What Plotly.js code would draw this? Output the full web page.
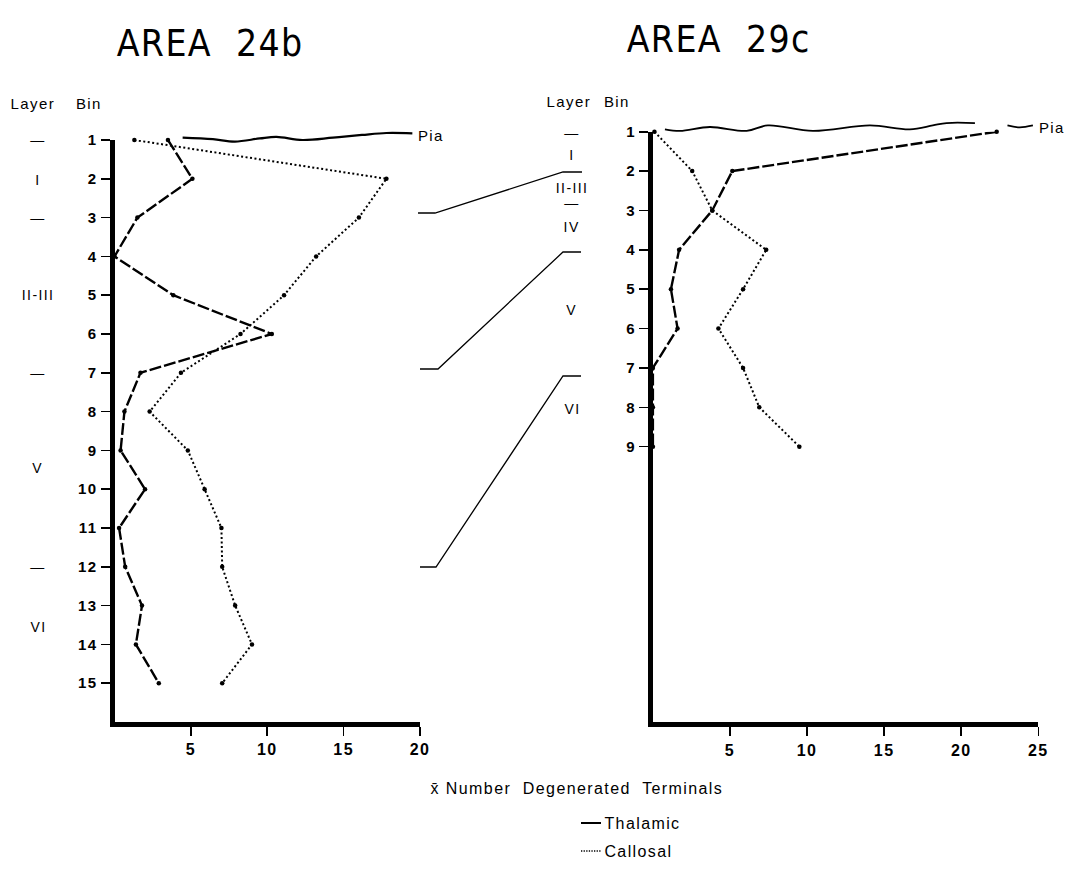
<!DOCTYPE html>
<html>
<head>
<meta charset="utf-8">
<script src="https://cdn.plot.ly/plotly-3.0.1.min.js"></script>
<style>
html,body{margin:0;padding:0;background:#fff;}
#chart{width:1068px;height:874px;}
#chart svg text{letter-spacing:1.4px;}
</style>
</head>
<body>
<div id="chart"></div>
<script>
// ---- Data ----
const binsLeft = [1,2,3,4,5,6,7,8,9,10,11,12,13,14,15];
const thalamic24b = [3.5,5.1,1.5,0,3.85,10.3,1.7,0.65,0.4,2.0,0.3,0.7,1.8,1.4,2.9];
const callosal24b = [1.3,17.8,16.0,13.2,11.1,8.25,4.35,2.3,4.8,5.9,7.0,7.05,7.9,9.0,7.05];

const binsRight = [1,2,3,4,5,6,7,8,9];
const thalamic29c = [22.3,5.15,3.85,1.7,1.17,1.6,0,0,0];
const callosal29c = [0.1,2.55,3.85,7.35,5.85,4.25,5.85,6.9,9.5];

const xTicksLeft = [5,10,15,20];
const xTicksRight = [5,10,15,20,25];

// Pia surface outline (wavy line)
const piaLeftX = [4.46,6.44,7.88,9.51,10.6,12.3,14.3,16.2,17.8,19.5];
const piaLeftY = [0.94,0.98,1.04,0.96,0.92,1.0,0.94,0.87,0.82,0.83];
const piaRightX = [0.78,1.76,3.70,6.08,7.46,10.38,14.08,16.67,18.16,19.05,20.89];
const piaRightY = [0.94,0.98,0.88,0.98,0.84,0.98,0.84,0.94,0.84,0.78,0.78];
const piaRight2X = [23.0,23.8,24.65];
const piaRight2Y = [0.84,0.89,0.84];

// Layer labels
const layersLeft = ["—","I","—","II-III","—","V","—","VI"];
const layersLeftBin = [1,2.03,3,5,7,9.45,12,13.55];
const layersRight = ["—","I","II-III","—","IV","V","VI"];
const layersRightBin = [1.03,1.59,2.42,2.81,3.43,5.54,8.05];

// ---- Drawing ----
const W = 1068, H = 874;
const px = x => x / W;
const py = y => 1 - y / H;

const FONT = "Liberation Sans, Arial, Helvetica, sans-serif";
const NARROW = "Liberation Sans Narrow, DejaVu Sans Condensed, Arial Narrow, sans-serif";

const thalLine = {color:'#000', width:2.4, dash:'12px,3px'};
const callLine = {color:'#000', width:2, dash:'2px,2.5px'};
const dotMarker = {color:'#000', size:4.5};

// geometry of the two panels (pixels)
const L = {x0:114.5, x1:420, yTop:140, yBot:722, bins:15};
const R = {x0:652.9, x1:1038.3, yTop:131.7, yBot:722.3, bins:15};
const piaTop = 100;
const extRange = g => 1 - (g.yTop - piaTop) / ((g.yBot - g.yTop) / g.bins);

const traces = [
  {x: thalamic24b, y: binsLeft, xaxis:'x', yaxis:'y', mode:'lines+markers', line: thalLine, marker: dotMarker, cliponaxis:false, name:'Thalamic'},
  {x: callosal24b, y: binsLeft, xaxis:'x', yaxis:'y', mode:'lines+markers', line: callLine, marker: dotMarker, cliponaxis:false, name:'Callosal'},
  {x: thalamic29c, y: binsRight, xaxis:'x2', yaxis:'y2', mode:'lines+markers', line: thalLine, marker: dotMarker, cliponaxis:false, name:'Thalamic'},
  {x: callosal29c, y: binsRight, xaxis:'x2', yaxis:'y2', mode:'lines+markers', line: callLine, marker: dotMarker, cliponaxis:false, name:'Callosal'},
  {x: piaLeftX, y: piaLeftY, xaxis:'x3', yaxis:'y3', mode:'lines', line:{color:'#000', width:2.2, shape:'spline'}, hoverinfo:'skip'},
  {x: piaRightX, y: piaRightY, xaxis:'x4', yaxis:'y4', mode:'lines', line:{color:'#000', width:1.8, shape:'spline'}, hoverinfo:'skip'},
  {x: piaRight2X, y: piaRight2Y, xaxis:'x4', yaxis:'y4', mode:'lines', line:{color:'#000', width:1.8, shape:'spline'}, hoverinfo:'skip'}
];

const axCommon = {
  showline:true, linecolor:'#000', linewidth:5, mirror:false,
  ticks:'outside', ticklen:9, tickwidth:1.6, tickcolor:'#000',
  showgrid:false, zeroline:false, fixedrange:true,
  tickfont:{family:FONT, size:16, color:'#000', weight:'bold'}
};
const hidden = {visible:false, showgrid:false, zeroline:false, fixedrange:true};

const annotations = [];
const ann = (o) => annotations.push(Object.assign({showarrow:false, xanchor:'center', yanchor:'middle', xref:'paper', yref:'paper'}, o));
ann({text:'AREA  24b', x:px(210), y:py(44), font:{family:NARROW, size:37, color:'#000'}});
ann({text:'AREA  29c', x:px(718), y:py(39), font:{family:NARROW, size:37, color:'#000'}});
ann({text:'Layer', x:px(33), y:py(103), font:{family:FONT, size:15, color:'#000'}});
ann({text:'Bin', x:px(89), y:py(103), font:{family:FONT, size:15, color:'#000'}});
ann({text:'Layer', x:px(569), y:py(102), font:{family:FONT, size:15, color:'#000'}});
ann({text:'Bin', x:px(617), y:py(102), font:{family:FONT, size:15, color:'#000'}});
layersLeft.forEach((t,i) => ann({text:t, x:px(38), y:layersLeftBin[i], yref:'y', font:{family:FONT, size:14, color:'#000'}}));
layersRight.forEach((t,i) => ann({text:t, x:px(572), y:layersRightBin[i], yref:'y2', font:{family:FONT, size:14, color:'#000'}}));
ann({text:'Pia', x:px(418), y:py(135), xanchor:'left', font:{family:FONT, size:15, color:'#000'}});
ann({text:'Pia', x:px(1039), y:py(128), xanchor:'left', font:{family:FONT, size:15, color:'#000'}});
ann({text:'x\u0304 Number  Degenerated  Terminals', x:px(577), y:py(788), font:{family:FONT, size:16, color:'#000'}});
ann({text:'Thalamic', x:px(608), y:py(823), xanchor:'left', font:{family:FONT, size:16, color:'#000'}});
ann({text:'Callosal', x:px(608), y:py(851), xanchor:'left', font:{family:FONT, size:16, color:'#000'}});

function pth(pts){ return pts.map((p,i)=> (i? 'L ':'M ') + px(p[0]).toFixed(5) + ' ' + py(p[1]).toFixed(5)).join(' '); }
const shapes = [
  {type:'path', xref:'paper', yref:'paper', path: pth([[418,213],[435,213],[563,172],[582,172]]), line:{color:'#000', width:1.3}},
  {type:'path', xref:'paper', yref:'paper', path: pth([[420,369],[438,369],[563,252],[581,252]]), line:{color:'#000', width:1.3}},
  {type:'path', xref:'paper', yref:'paper', path: pth([[420,567],[436,567],[563,376],[581,376]]), line:{color:'#000', width:1.3}},
  // legend keys
  {type:'line', xref:'paper', yref:'paper', x0:px(581), x1:px(601), y0:py(823), y1:py(823), line:{color:'#000', width:2}},
  {type:'line', xref:'paper', yref:'paper', x0:px(581), x1:px(601), y0:py(851), y1:py(851), line:{color:'#000', width:1.3, dash:'1.3px,1.3px'}}
];

const layout = {
  width: W, height: H,
  margin:{l:0, r:0, t:0, b:0},
  paper_bgcolor:'#fff', plot_bgcolor:'rgba(0,0,0,0)',
  font:{family:FONT, color:'#000'},
  showlegend:false,
  xaxis: Object.assign({}, axCommon, {domain:[px(L.x0), px(L.x1)], range:[0,20], tickvals:xTicksLeft, anchor:'y'}),
  yaxis: Object.assign({}, axCommon, {domain:[py(L.yBot), py(L.yTop)], range:[16,1], tickvals:binsLeft, anchor:'x', tickfont:{family:FONT, size:15, color:'#000', weight:'bold'}}),
  xaxis2: Object.assign({}, axCommon, {domain:[px(R.x0), px(R.x1)], range:[0,25], tickvals:xTicksRight, anchor:'y2'}),
  yaxis2: Object.assign({}, axCommon, {domain:[py(R.yBot), py(R.yTop)], range:[16,1], tickvals:binsRight, anchor:'x2', tickfont:{family:FONT, size:15, color:'#000', weight:'bold'}}),
  xaxis3: Object.assign({}, hidden, {domain:[px(L.x0), px(L.x1)], range:[0,20], anchor:'y3'}),
  yaxis3: Object.assign({}, hidden, {domain:[py(L.yBot), py(piaTop)], range:[16, extRange(L)], anchor:'x3'}),
  xaxis4: Object.assign({}, hidden, {domain:[px(R.x0), px(R.x1)], range:[0,25], anchor:'y4'}),
  yaxis4: Object.assign({}, hidden, {domain:[py(R.yBot), py(piaTop)], range:[16, extRange(R)], anchor:'x4'}),
  annotations: annotations,
  shapes: shapes
};

Plotly.newPlot('chart', traces, layout, {displayModeBar:false, staticPlot:true});
</script>
</body>
</html>
